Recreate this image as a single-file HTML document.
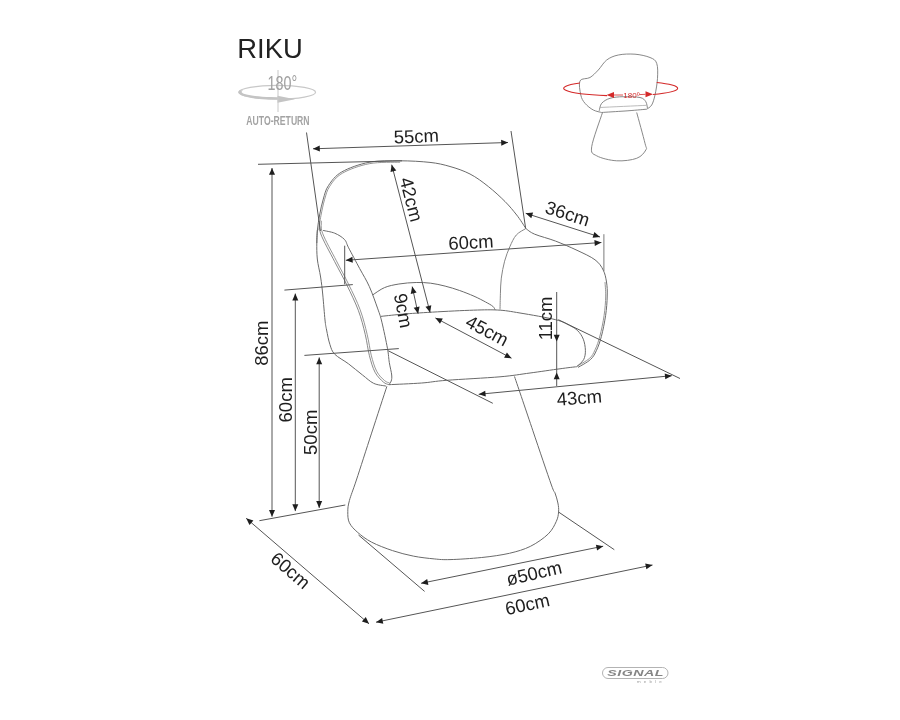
<!DOCTYPE html>
<html><head><meta charset="utf-8"><style>
html,body{margin:0;padding:0;background:#fff;width:900px;height:720px;overflow:hidden}
svg{display:block;font-family:"Liberation Sans",sans-serif;will-change:transform}
</style></head><body>
<svg width="900" height="720" viewBox="0 0 900 720">
<text x="237.3" y="57.9" font-size="27.4" fill="#222">RIKU</text>
<ellipse cx="277.25" cy="92.2" rx="38.3" ry="6.9" fill="none" stroke="#c8c8c8" stroke-width="1.2"/>
<path d="M239.5,90.5 A38.5,7.1 0 0 0 279,99.4 L279,97.2 A36,5.4 0 0 1 243.2,90.2 Z" fill="#c4c4c4"/>
<polygon points="277.5,95.8 277.5,102.8 295,99.3" fill="#c4c4c4"/>
<line x1="278.0" y1="70.0" x2="278.0" y2="112.0" stroke="#c8c8c8" stroke-width="1"/>
<text x="282.3" y="90.4" font-size="20.5" fill="#a0a0a0" text-anchor="middle" transform="scale(0.70,1)" style="transform-origin:282.3px 90px">180°</text>
<text x="278" y="124.6" font-size="12.2" font-weight="bold" fill="#a3a3a3" text-anchor="middle" transform="scale(0.71,1)" style="transform-origin:278px 120px">AUTO-RETURN</text>
<path d="M316.8,243.0 C316.9,240.8 316.9,234.7 317.4,230.0 C317.9,225.3 318.6,220.2 319.6,215.0 C320.6,209.8 321.8,203.9 323.3,199.0 C324.8,194.1 325.4,190.0 328.5,185.5 C331.6,181.0 334.9,175.9 341.7,172.0 C348.4,168.1 359.3,164.2 369.0,162.3 C378.7,160.4 389.8,160.8 400.0,160.8 C410.2,160.8 421.7,161.5 430.0,162.4 C438.3,163.3 443.3,164.6 450.0,166.5 C456.7,168.4 463.6,170.7 470.0,174.0 C476.4,177.3 482.5,181.9 488.3,186.5 C494.1,191.1 500.3,196.8 505.0,201.5 C509.7,206.2 513.2,210.6 516.7,215.0 C520.2,219.4 524.2,226.0 525.7,228.2" fill="none" stroke="#6a6a6a" stroke-width="1.0" stroke-linejoin="round"/>
<path d="M318.8,230.2 C319.2,227.7 320.0,220.4 321.0,215.3 C322.0,210.1 323.2,204.2 324.6,199.4 C326.1,194.6 326.7,190.7 329.7,186.3 C332.6,181.9 335.8,177.0 342.4,173.2 C349.0,169.4 359.7,165.5 369.3,163.7 C378.9,161.8 394.9,162.4 400.1,162.2" fill="none" stroke="#8a8a8a" stroke-width="0.9" stroke-linejoin="round"/>
<path d="M525.7,228.4 C527.2,229.4 529.7,232.1 534.7,234.2 C539.7,236.3 548.6,238.4 555.6,241.1 C562.6,243.8 570.4,247.2 577.0,250.3 C583.6,253.4 590.6,256.5 595.0,259.8 C599.4,263.1 601.3,266.3 603.2,270.0 C605.1,273.7 605.8,277.7 606.5,282.0 C607.2,286.3 607.4,290.4 607.2,296.0 C607.1,301.6 606.6,308.9 605.6,315.6 C604.6,322.3 602.9,330.6 601.4,336.4 C599.9,342.2 598.3,346.4 596.5,350.3 C594.7,354.2 593.6,356.6 590.5,359.5 C587.4,362.4 580.1,366.1 578.0,367.4" fill="none" stroke="#6a6a6a" stroke-width="1.0" stroke-linejoin="round"/>
<path d="M605.0,282.1 C605.1,284.4 605.8,290.4 605.7,296.0 C605.6,301.5 605.1,308.7 604.1,315.4 C603.2,322.1 601.4,330.3 599.9,336.0 C598.5,341.7 596.9,345.9 595.1,349.7 C593.4,353.4 592.5,355.7 589.5,358.4 C586.5,361.1 579.2,364.8 577.2,366.1" fill="none" stroke="#8a8a8a" stroke-width="0.9" stroke-linejoin="round"/>
<path d="M525.7,228.6 C524.1,229.7 518.9,232.0 516.3,235.0 C513.6,238.0 511.8,242.4 509.8,246.8 C507.9,251.2 506.0,256.0 504.6,261.2 C503.2,266.4 502.0,272.7 501.3,278.1 C500.6,283.5 500.6,288.6 500.4,293.8 C500.2,299.0 500.1,306.9 500.0,309.5" fill="none" stroke="#858585" stroke-width="1.0" stroke-linejoin="round"/>
<path d="M323.0,230.4 C324.9,230.9 331.1,231.7 334.7,233.2 C338.3,234.7 342.1,237.0 344.4,239.4 C346.7,241.8 346.1,242.9 348.6,247.8 C351.2,252.7 356.2,262.1 359.7,268.6 C363.2,275.1 366.4,280.0 369.4,286.7 C372.4,293.4 375.7,303.0 377.8,308.9 C379.9,314.8 380.3,315.6 381.9,322.2 C383.5,328.8 386.3,341.9 387.5,348.6 C388.7,355.3 388.6,358.1 389.3,362.5 C390.0,366.9 391.4,371.9 391.7,375.0 C392.0,378.1 391.7,379.4 391.2,381.0 C390.7,382.6 389.3,384.1 388.9,384.7" fill="none" stroke="#6a6a6a" stroke-width="1.0" stroke-linejoin="round"/>
<path d="M317.4,230.0 C317.3,232.2 316.8,238.2 316.8,243.0 C316.8,247.8 316.7,253.3 317.3,259.0 C317.9,264.7 319.7,271.0 320.6,277.0 C321.5,283.0 322.1,287.8 322.8,295.0 C323.5,302.2 324.4,314.2 325.0,320.0 C325.6,325.8 325.8,325.9 326.6,330.0 C327.4,334.1 328.5,340.4 329.9,344.4 C331.2,348.4 331.6,350.9 334.7,354.2 C337.8,357.4 344.0,360.4 348.6,363.9 C353.2,367.4 358.3,371.8 362.5,375.0 C366.7,378.2 369.7,381.4 373.6,383.3 C377.5,385.2 384.0,385.6 386.1,386.1" fill="none" stroke="#6a6a6a" stroke-width="1.0" stroke-linejoin="round"/>
<path d="M319.6,221.0 C319.8,223.2 318.3,227.2 320.8,234.0 C323.3,240.8 330.3,253.1 334.7,261.7 C339.1,270.2 343.1,277.2 347.0,285.3 C350.9,293.4 355.2,302.1 358.3,310.3 C361.4,318.5 363.5,327.1 365.3,334.7 C367.1,342.2 367.8,349.4 369.4,355.6 C371.0,361.9 372.7,367.8 375.0,372.2 C377.3,376.6 381.0,379.9 383.3,382.0 C385.6,384.1 388.0,384.2 388.9,384.7" fill="none" stroke="#7a7a7a" stroke-width="0.9" stroke-linejoin="round"/>
<path d="M321.5,220.8 C321.7,222.9 320.1,226.7 322.6,233.3 C325.1,240.0 332.0,252.3 336.4,260.8 C340.7,269.4 344.8,276.3 348.7,284.5 C352.7,292.6 357.0,301.3 360.1,309.6 C363.2,317.9 365.3,326.7 367.1,334.2 C369.0,341.8 369.7,348.9 371.2,355.1 C372.8,361.3 374.5,367.1 376.7,371.3 C378.9,375.6 382.4,378.6 384.6,380.6 C386.7,382.5 388.9,382.6 389.7,383.0" fill="none" stroke="#8a8a8a" stroke-width="0.9" stroke-linejoin="round"/>
<path d="M372.9,294.8 C374.8,293.6 380.2,289.4 384.5,287.6 C388.8,285.8 393.6,284.9 398.9,284.0 C404.2,283.1 410.9,282.6 416.2,282.5 C421.5,282.4 425.9,282.6 430.7,283.2 C435.5,283.8 440.3,284.9 445.1,286.1 C449.9,287.3 454.8,288.8 459.6,290.5 C464.4,292.2 469.7,294.3 474.0,296.2 C478.3,298.1 482.5,300.3 485.6,302.0 C488.7,303.7 491.2,305.0 492.8,306.3 C494.4,307.6 494.8,309.4 495.2,310.0" fill="none" stroke="#6a6a6a" stroke-width="1.0" stroke-linejoin="round"/>
<path d="M380.6,316.4 C383.8,316.1 392.1,315.1 400.0,314.4 C407.9,313.7 416.2,313.1 427.8,312.4 C439.4,311.7 457.8,310.7 469.4,310.3 C481.0,309.9 488.8,309.6 497.2,310.0 C505.6,310.4 510.3,311.4 520.0,313.0 C529.7,314.6 547.4,317.6 555.6,319.7 C563.8,321.8 565.7,323.4 569.4,325.3 C573.1,327.2 575.5,328.5 577.8,330.8 C580.1,333.1 582.0,335.9 583.3,339.2 C584.6,342.4 585.3,346.9 585.4,350.3 C585.5,353.7 585.0,357.0 583.6,359.7 C582.2,362.4 577.9,365.5 576.7,366.7" fill="none" stroke="#6a6a6a" stroke-width="1.0" stroke-linejoin="round"/>
<path d="M388.9,384.7 C394.4,384.4 412.1,383.7 421.7,383.0 C431.3,382.3 433.6,381.3 446.7,380.3 C459.8,379.3 486.1,378.0 500.0,376.8 C513.9,375.6 520.0,374.3 530.0,373.0 C540.0,371.7 552.2,369.8 560.0,368.8 C567.8,367.7 573.9,367.0 576.7,366.7" fill="none" stroke="#6a6a6a" stroke-width="1.0" stroke-linejoin="round"/>
<path d="M386.9,386.3 C384.3,394.1 376.7,417.5 371.6,433.1 C366.5,448.7 360.1,468.8 356.4,480.0 C352.7,491.2 350.8,495.3 349.4,500.6 C348.0,505.9 347.8,508.0 347.8,511.7 C347.8,515.4 347.7,519.3 349.4,522.8 C351.1,526.3 354.1,529.3 357.8,532.5 C361.5,535.7 365.9,539.2 371.7,542.2 C377.5,545.2 385.6,548.3 392.5,550.6 C399.4,552.9 406.4,554.7 413.3,556.1 C420.2,557.5 428.1,558.3 434.2,558.9 C440.3,559.5 442.1,559.8 450.0,559.6 C457.9,559.4 471.8,558.5 481.7,557.5 C491.6,556.5 501.3,555.1 509.4,553.3 C517.5,551.4 523.8,549.6 530.3,546.4 C536.8,543.2 544.0,538.1 548.3,533.9 C552.6,529.7 554.6,525.0 556.3,521.4 C558.0,517.8 558.3,515.1 558.6,512.0 C558.9,508.9 558.5,506.2 557.9,503.0 C557.3,499.8 556.1,496.0 555.0,493.0 C553.9,490.0 555.1,495.4 551.4,485.0 C547.7,474.6 539.0,448.9 532.9,430.8 C526.8,412.7 517.6,385.6 514.5,376.5" fill="none" stroke="#6a6a6a" stroke-width="1.0" stroke-linejoin="round"/>
<line x1="306.5" y1="132.5" x2="320.4" y2="231.0" stroke="#555" stroke-width="1.0"/>
<line x1="511.0" y1="131.0" x2="525.7" y2="228.6" stroke="#555" stroke-width="1.0"/>
<line x1="258.0" y1="164.3" x2="402.0" y2="160.8" stroke="#555" stroke-width="1.0"/>
<line x1="284.4" y1="290.1" x2="352.8" y2="284.6" stroke="#555" stroke-width="1.0"/>
<line x1="304.4" y1="355.4" x2="398.8" y2="348.6" stroke="#555" stroke-width="1.0"/>
<line x1="259.4" y1="520.7" x2="345.3" y2="505.0" stroke="#555" stroke-width="1.0"/>
<line x1="344.7" y1="245.7" x2="344.7" y2="284.3" stroke="#555" stroke-width="1.0"/>
<line x1="603.9" y1="234.2" x2="603.9" y2="271.0" stroke="#7a7a7a" stroke-width="1.0"/>
<line x1="388.3" y1="350.8" x2="492.8" y2="403.3" stroke="#555" stroke-width="1.0"/>
<line x1="558.3" y1="319.7" x2="680.0" y2="378.5" stroke="#555" stroke-width="1.0"/>
<line x1="358.5" y1="535.0" x2="424.6" y2="591.4" stroke="#555" stroke-width="1.0"/>
<line x1="558.8" y1="512.2" x2="614.3" y2="549.7" stroke="#555" stroke-width="1.0"/>
<line x1="313.0" y1="148.8" x2="508.0" y2="142.5" stroke="#555" stroke-width="1.0"/>
<polygon points="313.0,148.8 319.7,145.5 319.9,151.5" fill="#1e1e1e"/>
<polygon points="508.0,142.5 501.3,145.7 501.1,139.7" fill="#1e1e1e"/>
<line x1="272.0" y1="168.0" x2="272.0" y2="516.7" stroke="#555" stroke-width="1.0"/>
<polygon points="272.0,168.0 275.0,174.8 269.0,174.8" fill="#1e1e1e"/>
<polygon points="272.0,516.7 269.0,509.9 275.0,509.9" fill="#1e1e1e"/>
<line x1="295.3" y1="293.6" x2="295.3" y2="511.1" stroke="#555" stroke-width="1.0"/>
<polygon points="295.3,293.6 298.3,300.4 292.3,300.4" fill="#1e1e1e"/>
<polygon points="295.3,511.1 292.3,504.3 298.3,504.3" fill="#1e1e1e"/>
<line x1="319.2" y1="357.4" x2="319.2" y2="507.9" stroke="#555" stroke-width="1.0"/>
<polygon points="319.2,357.4 322.2,364.2 316.2,364.2" fill="#1e1e1e"/>
<polygon points="319.2,507.9 316.2,501.1 322.2,501.1" fill="#1e1e1e"/>
<line x1="391.7" y1="164.7" x2="430.1" y2="312.6" stroke="#555" stroke-width="1.0"/>
<polygon points="391.7,164.7 396.3,170.5 390.5,172.0" fill="#1e1e1e"/>
<polygon points="430.1,312.6 425.5,306.8 431.3,305.3" fill="#1e1e1e"/>
<line x1="525.7" y1="213.3" x2="600.0" y2="237.0" stroke="#555" stroke-width="1.0"/>
<polygon points="525.7,213.3 533.1,212.5 531.3,218.2" fill="#1e1e1e"/>
<polygon points="600.0,237.0 592.6,237.8 594.4,232.1" fill="#1e1e1e"/>
<line x1="345.8" y1="260.3" x2="601.4" y2="242.5" stroke="#555" stroke-width="1.0"/>
<polygon points="345.8,260.3 352.4,256.8 352.8,262.8" fill="#1e1e1e"/>
<polygon points="601.4,242.5 594.8,246.0 594.4,240.0" fill="#1e1e1e"/>
<line x1="412.2" y1="286.6" x2="418.1" y2="313.7" stroke="#555" stroke-width="1.0"/>
<polygon points="412.2,286.6 416.6,292.6 410.7,293.9" fill="#1e1e1e"/>
<polygon points="418.1,313.7 413.7,307.7 419.6,306.4" fill="#1e1e1e"/>
<line x1="435.4" y1="317.9" x2="511.5" y2="358.2" stroke="#555" stroke-width="1.0"/>
<polygon points="435.4,317.9 442.8,318.4 440.0,323.7" fill="#1e1e1e"/>
<polygon points="511.5,358.2 504.1,357.7 506.9,352.4" fill="#1e1e1e"/>
<line x1="556.7" y1="292.0" x2="556.7" y2="386.0" stroke="#555" stroke-width="1.0"/>
<polygon points="556.7,341.6 553.7,334.8 559.7,334.8" fill="#1e1e1e"/>
<polygon points="556.7,372.5 559.7,379.3 553.7,379.3" fill="#1e1e1e"/>
<line x1="478.7" y1="394.3" x2="671.8" y2="375.7" stroke="#555" stroke-width="1.0"/>
<polygon points="478.7,394.3 485.2,390.7 485.8,396.6" fill="#1e1e1e"/>
<polygon points="671.8,375.7 665.3,379.3 664.7,373.4" fill="#1e1e1e"/>
<line x1="421.1" y1="583.3" x2="603.2" y2="546.2" stroke="#555" stroke-width="1.0"/>
<polygon points="421.1,583.3 427.2,579.0 428.4,584.9" fill="#1e1e1e"/>
<polygon points="603.2,546.2 597.1,550.5 595.9,544.7" fill="#1e1e1e"/>
<line x1="376.0" y1="622.2" x2="652.5" y2="565.0" stroke="#555" stroke-width="1.0"/>
<polygon points="376.0,622.2 382.1,617.9 383.3,623.8" fill="#1e1e1e"/>
<polygon points="652.5,565.0 646.4,569.3 645.2,563.4" fill="#1e1e1e"/>
<line x1="246.2" y1="518.3" x2="369.0" y2="623.8" stroke="#555" stroke-width="1.0"/>
<polygon points="246.2,518.3 253.4,520.5 249.5,525.0" fill="#1e1e1e"/>
<polygon points="369.0,623.8 361.9,621.6 365.8,617.0" fill="#1e1e1e"/>
<text x="416.3" y="142.6" font-size="18.5" text-anchor="middle" fill="#1e1e1e" transform="rotate(-2.6 416.3 136.0)">55cm</text>
<text x="411.5" y="206.0" font-size="18.5" text-anchor="middle" fill="#1e1e1e" transform="rotate(75.5 411.5 199.4)">42cm</text>
<text x="567.6" y="220.0" font-size="18.5" text-anchor="middle" fill="#1e1e1e" transform="rotate(17.7 567.6 213.4)">36cm</text>
<text x="470.9" y="248.6" font-size="18.5" text-anchor="middle" fill="#1e1e1e" transform="rotate(-3.5 470.9 242.0)">60cm</text>
<text x="403.5" y="317.2" font-size="18.5" text-anchor="middle" fill="#1e1e1e" transform="rotate(79.3 403.5 310.6)">9cm</text>
<text x="487.3" y="337.0" font-size="18.5" text-anchor="middle" fill="#1e1e1e" transform="rotate(27.9 487.3 330.4)">45cm</text>
<text x="545.7" y="325.0" font-size="18.5" text-anchor="middle" fill="#1e1e1e" transform="rotate(-90.0 545.7 318.4)">11cm</text>
<text x="579.4" y="404.0" font-size="18.5" text-anchor="middle" fill="#1e1e1e" transform="rotate(-4.5 579.4 397.4)">43cm</text>
<text x="261.3" y="349.8" font-size="18.5" text-anchor="middle" fill="#1e1e1e" transform="rotate(-90.0 261.3 343.2)">86cm</text>
<text x="285.7" y="406.4" font-size="18.5" text-anchor="middle" fill="#1e1e1e" transform="rotate(-90.0 285.7 399.8)">60cm</text>
<text x="310.6" y="438.9" font-size="18.5" text-anchor="middle" fill="#1e1e1e" transform="rotate(-90.0 310.6 432.3)">50cm</text>
<text x="290.6" y="576.8" font-size="18.5" text-anchor="middle" fill="#1e1e1e" transform="rotate(40.7 290.6 570.2)">60cm</text>
<text x="534.0" y="579.6" font-size="18.4" text-anchor="middle" fill="#1e1e1e" transform="rotate(-13.0 534.0 573.0)">ø50cm</text>
<text x="527.3" y="610.6" font-size="18.4" text-anchor="middle" fill="#1e1e1e" transform="rotate(-12.5 527.3 604.0)">60cm</text>
<path d="M601.7,112.5 C600.3,112.1 596.1,111.5 593.3,110.0 C590.5,108.5 587.1,105.8 585.0,103.3 C582.9,100.8 581.6,98.8 580.8,95.0 C580.0,91.2 578.5,83.7 580.0,80.8 C581.5,77.9 587.0,79.3 590.0,77.5 C593.0,75.7 595.5,72.9 598.3,70.0 C601.1,67.1 603.4,62.5 606.7,60.0 C610.0,57.5 613.6,56.0 618.3,55.0 C623.0,54.0 629.7,53.8 635.0,54.2 C640.3,54.6 646.4,56.0 650.0,57.5 C653.6,59.0 655.5,59.8 656.7,63.3 C658.0,66.8 657.8,73.0 657.5,78.3 C657.2,83.6 656.0,90.5 655.0,95.0 C654.0,99.5 653.1,102.6 651.7,105.0 C650.3,107.4 647.5,108.5 646.7,109.2" fill="none" stroke="#7a7a7a" stroke-width="0.9" stroke-linejoin="round"/>
<path d="M601.7,112.5 C605.6,112.2 617.5,111.5 625.0,111.0 C632.5,110.5 643.1,109.5 646.7,109.2" fill="none" stroke="#7a7a7a" stroke-width="0.9" stroke-linejoin="round"/>
<path d="M599.2,110.8 C599.6,109.5 599.9,105.4 601.7,103.3 C603.5,101.2 606.4,99.4 610.0,98.3 C613.6,97.2 618.3,96.8 623.3,96.7 C628.3,96.6 636.2,96.7 640.0,97.5 C643.8,98.3 644.5,99.9 645.8,101.7 C647.0,103.5 647.2,107.2 647.5,108.3" fill="none" stroke="#7a7a7a" stroke-width="0.9" stroke-linejoin="round"/>
<path d="M600.0,107.5 C607.8,107.1 638.9,105.7 646.7,105.3" fill="none" stroke="#aaa" stroke-width="0.8" stroke-linejoin="round"/>
<path d="M602.5,112.5 C600.7,118.2 592.7,139.5 591.7,146.7 C590.7,153.9 592.5,153.5 596.7,155.8 C600.9,158.2 610.0,160.4 616.7,160.8 C623.4,161.2 631.9,160.1 636.7,158.3 C641.6,156.5 644.4,152.5 645.8,150.0 C647.2,147.5 646.5,149.6 645.0,143.3 C643.5,137.1 638.1,117.6 636.7,112.5" fill="none" stroke="#7a7a7a" stroke-width="0.9" stroke-linejoin="round"/>
<path d="M580,83.05 A56.9,7.5 0 0 0 607,95.6" fill="none" stroke="#d42a2a" stroke-width="1.1"/>
<path d="M656.7,82.5 A56.9,7.5 0 0 1 653,94.5" fill="none" stroke="#d42a2a" stroke-width="1.1"/>
<polygon points="606.5,95 614,92 614,98" fill="#d42a2a"/>
<polygon points="653,94.2 645.5,91.2 645.5,97.2" fill="#d42a2a"/>
<line x1="614.0" y1="95.0" x2="623.0" y2="95.0" stroke="#d42a2a" stroke-width="0.8"/>
<line x1="639.5" y1="94.6" x2="645.5" y2="94.3" stroke="#d42a2a" stroke-width="0.8"/>
<text x="631.5" y="98.3" font-size="8" text-anchor="middle" fill="#d42a2a">180º</text>
<rect x="602.5" y="667.5" width="65.5" height="11" rx="5.5" fill="none" stroke="#aaa" stroke-width="0.9"/>
<text x="635.6" y="676.4" font-size="8.6" font-weight="bold" font-style="italic" fill="#858585" text-anchor="middle" letter-spacing="0.3" transform="scale(1.66,1)" style="transform-origin:635.6px 676px">SIGNAL</text>
<text x="651" y="683.0" font-size="4.4" fill="#9a9a9a" text-anchor="middle" letter-spacing="3.2">meble</text>
</svg>
</body></html>
